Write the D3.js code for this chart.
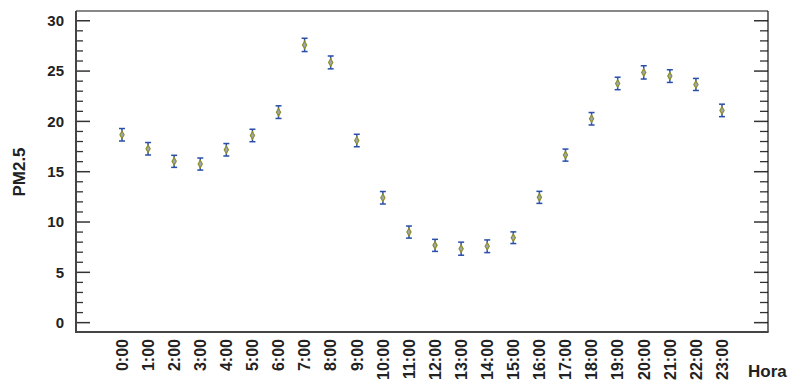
<!DOCTYPE html>
<html><head><meta charset="utf-8">
<script src="https://cdn.jsdelivr.net/npm/d3@7"></script>
<style>body{margin:0;background:#fff}svg{display:block}text{font-family:"Liberation Sans",Arial,sans-serif;font-weight:bold;fill:#222}</style>
</head><body>
<script>
const hours = ["0:00","1:00","2:00","3:00","4:00","5:00","6:00","7:00","8:00","9:00","10:00","11:00","12:00","13:00","14:00","15:00","16:00","17:00","18:00","19:00","20:00","21:00","22:00","23:00"];
const pm25 = [18.67,17.28,16.03,15.76,17.18,18.6,20.92,27.6,25.86,18.1,12.41,9.0,7.68,7.35,7.59,8.44,12.45,16.65,20.26,23.77,24.87,24.5,23.67,21.09];
const errHalf = [0.62,0.62,0.6,0.6,0.62,0.62,0.63,0.66,0.64,0.62,0.62,0.6,0.6,0.65,0.63,0.58,0.6,0.6,0.62,0.62,0.66,0.63,0.6,0.62];
const yTicks = [0,5,10,15,20,25,30];
const yMinor = d3.range(0,31,1);
const xTitle = "Hora", yTitle = "PM2.5";

const W=791,H=382, L=76,R=768,T=11,B=332;
const svg=d3.select("body").append("svg").attr("width",W).attr("height",H);
const x=d3.scalePoint().domain(hours).range([L,R]).padding(1.763);
const y=d3.scaleLinear().domain([-0.93,30.97]).range([B,T]);

svg.append("g").selectAll("line").data(yMinor.filter(v=>v%5!==0)).join("line")
  .attr("x1",L).attr("x2",L+7).attr("y1",d=>y(d)).attr("y2",d=>y(d)).attr("stroke","#333").attr("stroke-width",1.3);
svg.append("g").selectAll("line").data(yMinor.filter(v=>v%5!==0)).join("line")
  .attr("x1",R).attr("x2",R-8).attr("y1",d=>y(d)).attr("y2",d=>y(d)).attr("stroke","#333").attr("stroke-width",1.3);
svg.append("g").selectAll("line").data(yTicks).join("line")
  .attr("x1",L).attr("x2",L+14).attr("y1",d=>y(d)).attr("y2",d=>y(d)).attr("stroke","#333").attr("stroke-width",1.5);
svg.append("g").selectAll("line").data(yTicks).join("line")
  .attr("x1",R).attr("x2",R-14).attr("y1",d=>y(d)).attr("y2",d=>y(d)).attr("stroke","#333").attr("stroke-width",1.5);
svg.append("g").selectAll("text").data(yTicks).join("text")
  .attr("x",L-12).attr("y",d=>y(d)).attr("dy","0.36em").attr("text-anchor","end")
  .style("font-size","15px").text(d=>d);
svg.append("line").attr("x1",L).attr("x2",R).attr("y1",T).attr("y2",T).attr("stroke","#111").attr("stroke-width",1.2);
svg.append("line").attr("x1",R).attr("x2",R).attr("y1",T).attr("y2",B).attr("stroke","#111").attr("stroke-width",1.2);
svg.append("line").attr("x1",L).attr("x2",L).attr("y1",T).attr("y2",B+1).attr("stroke","#444").attr("stroke-width",2);
svg.append("line").attr("x1",L-1).attr("x2",R+0.6).attr("y1",B).attr("y2",B).attr("stroke","#444").attr("stroke-width",2);
svg.append("g").selectAll("text").data(hours).join("text")
  .attr("transform",d=>`translate(${x(d)},339) rotate(-90)`).attr("dy","0.36em").attr("text-anchor","end")
  .style("font-size","16px").text(d=>d);
svg.append("text").attr("x",748).attr("y",377).style("font-size","17px").text(xTitle);
svg.append("text").attr("transform","translate(19,172) rotate(-90)").attr("dy","0.36em").attr("text-anchor","middle").style("font-size","17px").text(yTitle);
const g=svg.append("g");
hours.forEach((h,i)=>{
  const cx=x(h), v=pm25[i], e=errHalf[i];
  g.append("line").attr("x1",cx).attr("x2",cx).attr("y1",y(v+e)).attr("y2",y(v-e)).attr("stroke","#2a4fa8").attr("stroke-width",1.5);
  [v+e,v-e].forEach(c=>g.append("line").attr("x1",cx-3).attr("x2",cx+3).attr("y1",y(c)).attr("y2",y(c)).attr("stroke","#2a4fa8").attr("stroke-width",1.5));
  g.append("path").attr("d",d3.symbol(d3.symbolDiamond,16)()).attr("transform",`translate(${cx},${y(v)})`)
    .attr("fill","#9aa8b8").attr("stroke","#8d8d22").attr("stroke-width",1.1);
});
</script>
</body></html>
